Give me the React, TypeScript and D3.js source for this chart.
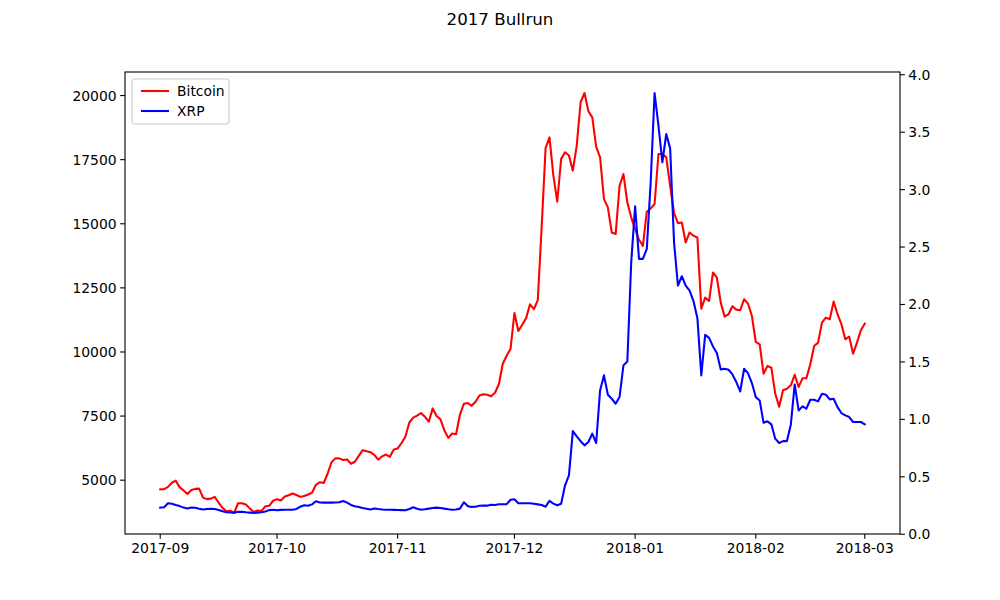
import React from 'react';
import * as d3 from 'd3';

// daily closes, 2017-09-01 .. 2018-03-01
const startDate = new Date(Date.UTC(2017, 8, 1));

const bitcoin: number[] = [
  4640, 4650, 4740, 4900, 4980, 4720, 4600, 4460, 4620, 4660,
  4670, 4320, 4260, 4280, 4350, 4120, 3920, 3790, 3810, 3720,
  4100, 4100, 4050, 3900, 3760, 3820, 3800, 3980, 4000, 4200,
  4260, 4210, 4360, 4410, 4480, 4420, 4350, 4380, 4440, 4510,
  4820, 4920, 4890, 5250, 5700, 5850, 5850, 5790, 5810, 5640,
  5720, 5950, 6170, 6130, 6090, 5990, 5800, 5930, 6000, 5910,
  6200, 6240, 6450, 6700, 7250, 7440, 7520, 7620, 7470, 7280,
  7800, 7500, 7370, 6940, 6650, 6820, 6790, 7560, 7980, 8010,
  7900, 8060, 8300, 8350, 8330, 8270, 8410, 8740, 9540, 9850,
  10130, 11520, 10820, 11060, 11320, 11860, 11670, 12020, 14900, 17950,
  18370, 16880, 15860, 17530, 17790, 17660, 17070, 18050, 19740, 20100,
  19390, 19150, 18000, 17590, 15960, 15640, 14660, 14600, 16480, 16940,
  15830, 15250, 14790, 14375, 14140, 15470, 15600, 15770, 17720, 17720,
  17590, 16480, 15430, 15025, 15050, 14270, 14660, 14530, 14466, 11690,
  12120, 11990, 13100, 12900, 11925, 11378, 11472, 11784, 11652, 11628,
  12058, 11886, 11405, 10390, 10300, 9152, 9453, 9387, 8371, 7863,
  8504, 8566, 8700, 9110, 8633, 8973, 8973, 9519, 10234, 10364,
  11144, 11340, 11276, 11964, 11472, 11082, 10494, 10598, 9934, 10364,
  10846, 11105,
];

const xrp: number[] = [
  0.232, 0.235, 0.27, 0.266, 0.255, 0.245, 0.232, 0.225, 0.232, 0.23,
  0.222, 0.215, 0.22, 0.222, 0.22, 0.212, 0.2, 0.192, 0.19, 0.188,
  0.195, 0.196, 0.191, 0.188, 0.185, 0.188, 0.192, 0.198, 0.21, 0.213,
  0.209, 0.212, 0.214, 0.214, 0.214, 0.22, 0.24, 0.252, 0.248, 0.26,
  0.287, 0.276, 0.275, 0.275, 0.275, 0.276, 0.278, 0.29, 0.275, 0.255,
  0.244, 0.237, 0.228, 0.222, 0.216, 0.225, 0.22, 0.216, 0.214, 0.213,
  0.212, 0.211, 0.21, 0.209, 0.22, 0.235, 0.222, 0.214, 0.218, 0.223,
  0.228, 0.232, 0.228, 0.223, 0.217, 0.213, 0.215, 0.223, 0.278, 0.245,
  0.238, 0.24, 0.248, 0.249, 0.249, 0.257, 0.255, 0.261, 0.261, 0.262,
  0.3, 0.305, 0.27, 0.27, 0.27, 0.27, 0.265, 0.26, 0.255, 0.24,
  0.29, 0.267, 0.252, 0.265, 0.426, 0.513, 0.898, 0.852, 0.81, 0.774,
  0.803, 0.876, 0.794, 1.252, 1.383, 1.215, 1.18, 1.136, 1.194, 1.47,
  1.504, 2.368, 2.855, 2.397, 2.397, 2.484, 3.064, 3.841, 3.557, 3.238,
  3.484, 3.359, 2.542, 2.165, 2.246, 2.165, 2.12, 2.03, 1.88, 1.383,
  1.736, 1.71, 1.635, 1.577, 1.435, 1.441, 1.432, 1.391, 1.325, 1.243,
  1.441, 1.403, 1.316, 1.194, 1.165, 0.971, 0.983, 0.957, 0.832, 0.794,
  0.811, 0.811, 0.954, 1.304, 1.078, 1.113, 1.093, 1.171, 1.171, 1.157,
  1.223, 1.215, 1.174, 1.18, 1.107, 1.055, 1.035, 1.02, 0.977, 0.977,
  0.977, 0.957,
];

const btcTicks = [5000, 7500, 10000, 12500, 15000, 17500, 20000];
const xrpTicks = [0.0, 0.5, 1.0, 1.5, 2.0, 2.5, 3.0, 3.5, 4.0];
const seriesNames = ['Bitcoin', 'XRP'];
const seriesColors = ['#ff0000', '#0000ff'];

const width = 1000;
const height = 600;
const margin = { top: 72, right: 100, bottom: 66, left: 125 };
const font = '"DejaVu Sans", sans-serif';

// matplotlib style 5% padding
const padded = (lo: number, hi: number): [number, number] => {
  const m = (hi - lo) * 0.05;
  return [lo - m, hi + m];
};

const App: React.FC = () => {
  const left = margin.left;
  const right = width - margin.right;
  const top = margin.top;
  const bottom = height - margin.bottom;

  const dates = bitcoin.map((_, i) => d3.utcDay.offset(startDate, i));
  const t0 = dates[0].getTime();
  const t1 = dates[dates.length - 1].getTime();
  const [tLo, tHi] = padded(t0, t1);

  const xScale = d3.scaleUtc().domain([new Date(tLo), new Date(tHi)]).range([left, right]);
  const yBtc = d3
    .scaleLinear()
    .domain(padded(d3.min(bitcoin)!, d3.max(bitcoin)!))
    .range([bottom, top]);
  const yXrp = d3
    .scaleLinear()
    .domain(padded(d3.min(xrp)!, d3.max(xrp)!))
    .range([bottom, top]);

  const btcLine = d3
    .line<number>()
    .x((_, i) => xScale(dates[i]))
    .y(d => yBtc(d));
  const xrpLine = d3
    .line<number>()
    .x((_, i) => xScale(dates[i]))
    .y(d => yXrp(d));

  const monthTicks = d3.utcMonth.range(new Date(Date.UTC(2017, 8, 1)), new Date(Date.UTC(2018, 2, 2)));
  const fmt = d3.utcFormat('%Y-%m');
  const tickLen = 4.86;

  return (
    <div style={{ position: 'absolute', left: 0, top: 0 }}>
      <svg width={width} height={height} style={{ display: 'block', background: '#fff' }}>
        <text x={width / 2} y={24.5} textAnchor="middle" fontFamily={font} fontSize={16.67} fill="#000">
          2017 Bullrun
        </text>

        <clipPath id="plot-clip">
          <rect x={left} y={top} width={right - left} height={bottom - top} />
        </clipPath>

        <g clipPath="url(#plot-clip)">
          <path d={btcLine(bitcoin) || ''} fill="none" stroke={seriesColors[0]} strokeWidth={2.08} strokeLinejoin="round" strokeLinecap="square" />
          <path d={xrpLine(xrp) || ''} fill="none" stroke={seriesColors[1]} strokeWidth={2.08} strokeLinejoin="round" strokeLinecap="square" />
        </g>

        <rect x={left} y={top} width={right - left} height={bottom - top} fill="none" stroke="#000" strokeWidth={1.1} />

        {/* x axis */}
        {monthTicks.map(t => (
          <g key={t.getTime()}>
            <line x1={xScale(t)} x2={xScale(t)} y1={bottom} y2={bottom + tickLen} stroke="#000" strokeWidth={1.1} />
            <text x={xScale(t)} y={bottom + tickLen + 3.5} dy="0.76em" textAnchor="middle" fontFamily={font} fontSize={13.9} fill="#000">
              {fmt(t)}
            </text>
          </g>
        ))}

        {/* left axis: Bitcoin */}
        {btcTicks.map(v => (
          <g key={v}>
            <line x1={left - tickLen} x2={left} y1={yBtc(v)} y2={yBtc(v)} stroke="#000" strokeWidth={1.1} />
            <text x={left - tickLen - 3.5} y={yBtc(v)} dy="0.36em" textAnchor="end" fontFamily={font} fontSize={13.9} fill="#000">
              {v}
            </text>
          </g>
        ))}

        {/* right axis: XRP */}
        {xrpTicks.map(v => (
          <g key={v}>
            <line x1={right} x2={right + tickLen} y1={yXrp(v)} y2={yXrp(v)} stroke="#000" strokeWidth={1.1} />
            <text x={right + tickLen + 3.5} y={yXrp(v)} dy="0.36em" textAnchor="start" fontFamily={font} fontSize={13.9} fill="#000">
              {v.toFixed(1)}
            </text>
          </g>
        ))}

        {/* legend */}
        <g transform={`translate(${left + 7},${top + 7})`}>
          <rect x={0} y={0} width={97} height={45} rx={2.8} fill="#fff" fillOpacity={0.8} stroke="#cccccc" strokeWidth={1.1} />
          {seriesNames.map((name, i) => (
            <g key={name} transform={`translate(0,${12 + i * 20})`}>
              <line x1={9} x2={37} y1={0} y2={0} stroke={seriesColors[i]} strokeWidth={2.08} />
              <text x={45} y={0} dy="0.36em" fontFamily={font} fontSize={13.9} fill="#000">
                {name}
              </text>
            </g>
          ))}
        </g>
      </svg>
    </div>
  );
};

export default App;
